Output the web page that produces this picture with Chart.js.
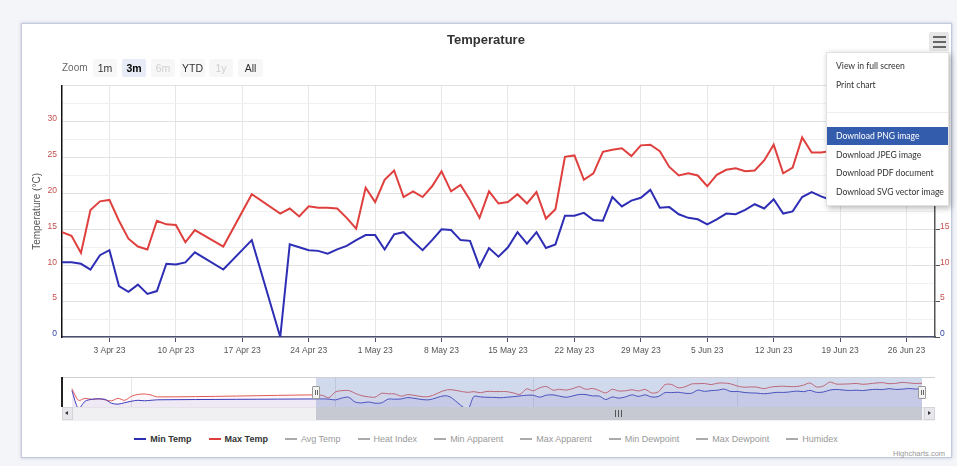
<!DOCTYPE html>
<html>
<head>
<meta charset="utf-8">
<title>Temperature</title>
<script src="https://cdn.jsdelivr.net/npm/chart.js@4.4.1/dist/chart.umd.min.js"></script>
<style>
  html, body { margin: 0; padding: 0; }
  body { width: 957px; height: 466px; background: #f4f5f9; position: relative; overflow: hidden;
         font-family: "Liberation Sans", Arial, sans-serif; }
  #card { position: absolute; left: 21px; top: 23px; width: 929px; height: 433px; background: #fff;
          border: 1px solid #c3c9df; box-shadow: 0 0 3px rgba(90,100,150,.35); }
  #main { position: absolute; left: 21px; top: 24px; }
  #nav { position: absolute; left: 62px; top: 377px; }
  .abs { position: absolute; }
  .zbtn { position: absolute; top: 59px; width: 24px; height: 18px; line-height: 18px; text-align: center;
          font-size: 10.5px; color: #333; background: #f7f7f7; border-radius: 2px; }
  .zbtn.sel { background: #e6ebf5; font-weight: bold; color: #000; }
  .zbtn.off { color: #cfcfcf; }
  #legend { position: absolute; left: 21px; top: 431px; width: 930px; height: 16px; display: flex;
            justify-content: center; align-items: center; font-size: 9px; }
  #legend .item { display: flex; align-items: center; margin: 0 8.5px; color: #999; }
  #legend .item.on { color: #333; font-weight: bold; }
  #legend .sym { width: 12px; height: 2px; margin-right: 4px; background: #aaa; }
  #menu { position: absolute; left: 826px; top: 52px; width: 121px; height: 152px; background: #fff;
          box-shadow: 2px 2px 6px rgba(0,0,0,.3); border: 1px solid #e2e2e2; font-family: Lato, sans-serif;
          font-size: 8.6px; color: #333; }
  #menu .row { position: absolute; left: 0; width: 121px; height: 18px; line-height: 18px; padding-left: 9px;
               box-sizing: border-box; white-space: nowrap; }
  #menu .row.hi { background: #335cad; color: #fff; }
</style>
</head>
<body>
<div id="card"></div>
<canvas id="main" width="930" height="341"></canvas>
<canvas id="nav" width="860" height="33"></canvas>
<div id="overlay"></div>
<div id="legend"></div>
<div class="abs" style="left:893px;top:449px;font-size:7.5px;color:#999;">Highcharts.com</div>

<script>
// daily observations shown in the 3 month view (13-14, 16-17, 19-20 Apr missing)
const dates = [
  '2023-03-29','2023-03-30','2023-03-31','2023-04-01','2023-04-02','2023-04-03','2023-04-04','2023-04-05',
  '2023-04-06','2023-04-07','2023-04-08','2023-04-09','2023-04-10','2023-04-11','2023-04-12',
  '2023-04-15','2023-04-18',
  '2023-04-21','2023-04-22','2023-04-23','2023-04-24','2023-04-25','2023-04-26','2023-04-27','2023-04-28',
  '2023-04-29','2023-04-30',
  '2023-05-01','2023-05-02','2023-05-03','2023-05-04','2023-05-05','2023-05-06','2023-05-07','2023-05-08',
  '2023-05-09','2023-05-10','2023-05-11','2023-05-12','2023-05-13','2023-05-14','2023-05-15','2023-05-16',
  '2023-05-17','2023-05-18','2023-05-19','2023-05-20','2023-05-21','2023-05-22','2023-05-23','2023-05-24',
  '2023-05-25','2023-05-26','2023-05-27','2023-05-28','2023-05-29','2023-05-30','2023-05-31',
  '2023-06-01','2023-06-02','2023-06-03','2023-06-04','2023-06-05','2023-06-06','2023-06-07','2023-06-08',
  '2023-06-09','2023-06-10','2023-06-11','2023-06-12','2023-06-13','2023-06-14','2023-06-15','2023-06-16',
  '2023-06-17','2023-06-18','2023-06-19','2023-06-20','2023-06-21','2023-06-22','2023-06-23','2023-06-24',
  '2023-06-25','2023-06-26','2023-06-27','2023-06-28','2023-06-29'
];
const minTemp = [
  10.4, 10.4, 10.2, 9.4, 11.4, 12.1, 7.1, 6.3, 7.3, 6.0, 6.4, 10.2, 10.1, 10.4, 11.8,
  9.4, 13.5,
  0, 12.9, 12.5, 12.1, 12.0, 11.6, 12.2, 12.7, 13.5, 14.2,
  14.2, 12.2, 14.3, 14.6, 13.3, 12.1, 13.5, 15.0, 14.9, 13.5, 13.4, 9.8, 12.4, 11.2, 12.5, 14.6,
  13.0, 14.6, 12.4, 12.9, 16.9, 16.9, 17.3, 16.3, 16.2, 19.5, 18.2, 19.0, 19.4, 20.5, 18.0,
  18.1, 17.1, 16.6, 16.4, 15.7, 16.4, 17.2, 17.1, 17.7, 18.5, 17.9, 19.2, 17.2, 17.5, 19.5, 20.2,
  19.6, 19.1, 19.4, 19.0, 19.8, 20.3, 20.0, 21.0, 20.2, 20.5, 21.1, 20.6, 20.8
];
const maxTemp = [
  14.6, 14.1, 11.7, 17.7, 18.9, 19.1, 16.2, 13.7, 12.6, 12.2, 16.2, 15.7, 15.6, 13.2, 14.9,
  12.6, 19.9,
  17.2, 17.9, 16.8, 18.2, 18.0, 18.0, 17.9, 16.6, 15.1, 20.8,
  18.8, 21.9, 23.2, 19.5, 20.3, 19.5, 21.0, 23.1, 20.3, 21.2, 19.1, 16.6, 20.3, 18.6, 18.8, 19.9,
  18.6, 20.2, 16.5, 17.8, 25.1, 25.3, 21.9, 22.8, 25.8, 26.1, 26.3, 25.2, 26.7, 26.8, 25.9,
  23.7, 22.5, 22.8, 22.5, 21.0, 22.6, 23.3, 23.5, 23.1, 23.2, 24.6, 26.8, 22.8, 23.6, 27.8, 25.7,
  25.7, 25.9, 26.4, 25.5, 26.0, 26.8, 27.2, 26.1, 26.5, 27.4, 26.9, 26.3, 26.6
];

// earlier data only visible in the navigator
const navDates = [
  '2023-02-20','2023-02-21','2023-02-22','2023-02-23','2023-02-24','2023-02-25','2023-02-26',
  '2023-02-27','2023-02-28','2023-03-01','2023-03-02','2023-03-03','2023-03-04','2023-03-05'
];
const navMin = [19.0, 0.5, 8.0, 10.0, 10.5, 10.0, 6.0, 5.0, 6.5, 8.0, 9.0, 8.5, 9.0, 9.5];
const navMax = [21.0, 9.0, 11.0, 10.0, 10.5, 9.5, 8.5, 11.0, 9.0, 13.0, 15.0, 15.5, 14.5, 12.5];

const tickDates = ['2023-04-03','2023-04-10','2023-04-17','2023-04-24','2023-05-01','2023-05-08','2023-05-15',
                   '2023-05-22','2023-05-29','2023-06-05','2023-06-12','2023-06-19','2023-06-26'];
const tickLabels = ['3 Apr 23','10 Apr 23','17 Apr 23','24 Apr 23','1 May 23','8 May 23','15 May 23',
                    '22 May 23','29 May 23','5 Jun 23','12 Jun 23','19 Jun 23','26 Jun 23'];
const navTickDates = ['2023-03-01','2023-04-01','2023-05-01','2023-06-01'];
const navTickLabels = ["Mar '23","Apr '23","May '23","Jun '23"];

const seriesNames = ['Min Temp','Max Temp','Avg Temp','Heat Index','Min Apparent','Max Apparent',
                     'Min Dewpoint','Max Dewpoint','Humidex'];
const shownSeries = ['Min Temp','Max Temp'];
const zoomButtons = ['1m','3m','6m','YTD','1y','All'];
const menuItems = ['View in full screen','Print chart','','Download PNG image','Download JPEG image',
                   'Download PDF document','Download SVG vector image'];

const BLUE = '#2e2eb5', RED = '#df403e';
const start = Date.parse('2023-03-29');
const dayOf = d => (Date.parse(d) - start) / 864e5;
const pts = (ds, vs) => ds.map((d, i) => ({ x: dayOf(d), y: vs[i] }));
const fam = '"Liberation Sans", Arial, sans-serif';

const yLabel = v => (v % 5 === 0 && v < 35) ? String(v) : '';
const yColor = ctx => ctx.tick && ctx.tick.value === 0 ? '#3344aa' : '#c4504d';

new Chart(document.getElementById('main'), {
  type: 'line',
  data: {
    datasets: [
      { label: 'Min Temp', data: pts(dates, minTemp), borderColor: BLUE, borderWidth: 2,
        pointRadius: 0, tension: 0, yAxisID: 'y' },
      { label: 'Max Temp', data: pts(dates, maxTemp), borderColor: RED, borderWidth: 2,
        pointRadius: 0, tension: 0, yAxisID: 'y' }
    ]
  },
  options: {
    responsive: false,
    animation: false,
    layout: { padding: 0 },
    plugins: {
      legend: { display: false },
      tooltip: { enabled: false },
      title: { display: true, text: 'Temperature', color: '#333',
               font: { size: 13, weight: 'bold', family: fam },
               padding: { top: 8.6, bottom: 37.6 } }
    },
    scales: {
      x: {
        type: 'linear', min: 0, max: 92,
        afterBuildTicks: s => { s.ticks = tickDates.map(d => ({ value: dayOf(d) })); },
        afterFit: s => { s.height = 28; },
        ticks: { callback: (v, i) => tickLabels[i], autoSkip: false, maxRotation: 0,
                 color: '#555', font: { size: 8.5, family: fam }, padding: 4 },
        grid: { color: '#e6e6e6', tickLength: 5, tickColor: '#4b5070' },
        border: { color: '#4b5070', width: 1.5 }
      },
      y: {
        position: 'left', min: 0, max: 35,
        afterFit: s => { s.width = 41; },
        ticks: { stepSize: 2.5, callback: yLabel, color: yColor, labelOffset: -3, padding: 5,
                 font: { size: 8.5, family: fam } },
        grid: { drawTicks: false, color: ctx => ctx.tick && ctx.tick.value % 5 === 0 ? '#e2e2e2' : '#f0f0f0' },
        border: { color: '#111', width: 1.5 },
        title: { display: true, text: 'Temperature (°C)', color: '#555',
                 font: { size: 10, family: fam }, padding: { top: 10.7 } }
      },
      y2: {
        position: 'right', min: 0, max: 35,
        afterFit: s => { s.width = 16; },
        ticks: { stepSize: 2.5, callback: yLabel, color: yColor, labelOffset: -3, padding: 0,
                 font: { size: 8.5, family: fam } },
        grid: { drawOnChartArea: false, tickLength: 5,
                tickColor: ctx => ctx.tick && ctx.tick.value % 5 === 0 && ctx.tick.value < 35 ? '#555' : 'rgba(0,0,0,0)' },
        border: { color: '#555', width: 1.5 }
      }
    }
  }
});

// navigator
new Chart(document.getElementById('nav'), {
  type: 'line',
  data: {
    datasets: [
      { data: pts(navDates.concat(dates), navMin.concat(minTemp)), borderColor: '#3b3bbb', borderWidth: 1,
        pointRadius: 0, tension: 0.3, fill: 'origin', backgroundColor: 'rgba(70,60,200,0.08)' },
      { data: pts(navDates.concat(dates), navMax.concat(maxTemp)), borderColor: '#e05a58', borderWidth: 1,
        pointRadius: 0, tension: 0.3, fill: 'origin', backgroundColor: 'rgba(220,80,120,0.04)' }
    ]
  },
  options: {
    responsive: false,
    animation: false,
    layout: { padding: 0 },
    plugins: { legend: { display: false }, tooltip: { enabled: false } },
    scales: {
      x: {
        type: 'linear', min: -38.5, max: 92,
        afterBuildTicks: s => { s.ticks = navTickDates.map(d => ({ value: dayOf(d) })); },
        afterFit: s => { s.height = 0; },
        ticks: { callback: (v, i) => navTickLabels[i], align: 'start', labelOffset: 5, padding: -13,
                 autoSkip: false, maxRotation: 0, color: '#999', font: { size: 8.5, family: fam } },
        grid: { color: '#e6e6e6', drawTicks: false },
        border: { display: false }
      },
      y: { display: false, min: -1, max: 33 }
    }
  }
});

// html decorations: zoom buttons, navigator mask, scrollbar, export menu, legend
const ov = document.getElementById('overlay');
let html = '<div class="abs" style="left:62px;top:59px;height:18px;line-height:18px;font-size:10px;color:#666;">Zoom</div>';
zoomButtons.forEach((b, i) => {
  const cls = b === '3m' ? ' sel' : (b === '6m' || b === '1y') ? ' off' : '';
  html += '<div class="zbtn' + cls + '" style="left:' + (93 + i * 29) + 'px;' + (b === 'YTD' || b === 'All' ? 'width:25px;' : '') + '">' + b + '</div>';
});
html += '<div class="abs" style="left:62px;top:377px;width:873px;height:1px;background:#cfcfd6;"></div>';
html += '<div class="abs" style="left:61px;top:377px;width:1.5px;height:30px;background:#222;"></div>';
html += '<div class="abs" style="left:316px;top:378px;width:606px;height:29px;background:rgba(102,133,194,0.3);"></div>';
html += '<div class="abs" style="left:62px;top:407px;width:873px;height:13px;background:#f0f0f2;border-top:1px solid #e3e3e8;"></div>';
html += '<div class="abs" style="left:316px;top:407px;width:606px;height:13px;background:#c6c8d2;"></div>';
html += '<div class="abs" style="left:615px;top:410px;width:7px;height:7px;background:repeating-linear-gradient(90deg,#555 0 1px,transparent 1px 3px);"></div>';
html += '<div class="abs" style="left:62px;top:407px;width:11px;height:13px;background:#e8e8ec;border:1px solid #d4d4da;box-sizing:border-box;"></div>';
html += '<div class="abs" style="left:65px;top:411px;width:0;height:0;border-top:2.5px solid transparent;border-bottom:2.5px solid transparent;border-right:3px solid #333;"></div>';
html += '<div class="abs" style="left:924px;top:407px;width:11px;height:13px;background:#e8e8ec;border:1px solid #d4d4da;box-sizing:border-box;"></div>';
html += '<div class="abs" style="left:928px;top:411px;width:0;height:0;border-top:2.5px solid transparent;border-bottom:2.5px solid transparent;border-left:3px solid #333;"></div>';
[316, 922].forEach(x => {
  html += '<div class="abs" style="left:' + (x - 4) + 'px;top:386px;width:8px;height:13px;background:#f4f4f4;border:1px solid #999;box-sizing:border-box;border-radius:1px;">' +
          '<div class="abs" style="left:2px;top:3px;width:1px;height:5px;background:#666;"></div>' +
          '<div class="abs" style="left:4px;top:3px;width:1px;height:5px;background:#666;"></div></div>';
});
// hamburger button
html += '<div class="abs" style="left:929px;top:32px;width:20px;height:19px;background:#e6e6e6;border-radius:2px;"></div>';
[36, 41, 46].forEach(y => {
  html += '<div class="abs" style="left:933px;top:' + y + 'px;width:13px;height:2px;background:#666;"></div>';
});
// export menu
html += '<div id="menu">';
const rowTops = [4, 22.6, 41.2, 74, 92.5, 111, 129.5];
menuItems.forEach((m, i) => {
  if (m === '') {
    html += '<div class="abs" style="left:0;top:59px;width:121px;height:1px;background:#eee;"></div>';
    return;
  }
  html += '<div class="row' + (i === 3 ? ' hi' : '') + '" style="top:' + rowTops[i] + 'px;">' + m + '</div>';
});
html += '</div>';
ov.innerHTML = html;

const colors = { 'Min Temp': BLUE, 'Max Temp': RED };
document.getElementById('legend').innerHTML = seriesNames.map(n => {
  const on = shownSeries.includes(n);
  return '<div class="item' + (on ? ' on' : '') + '"><span class="sym" style="' +
         (on ? 'background:' + colors[n] : '') + '"></span>' + n + '</div>';
}).join('');
</script>
</body>
</html>
